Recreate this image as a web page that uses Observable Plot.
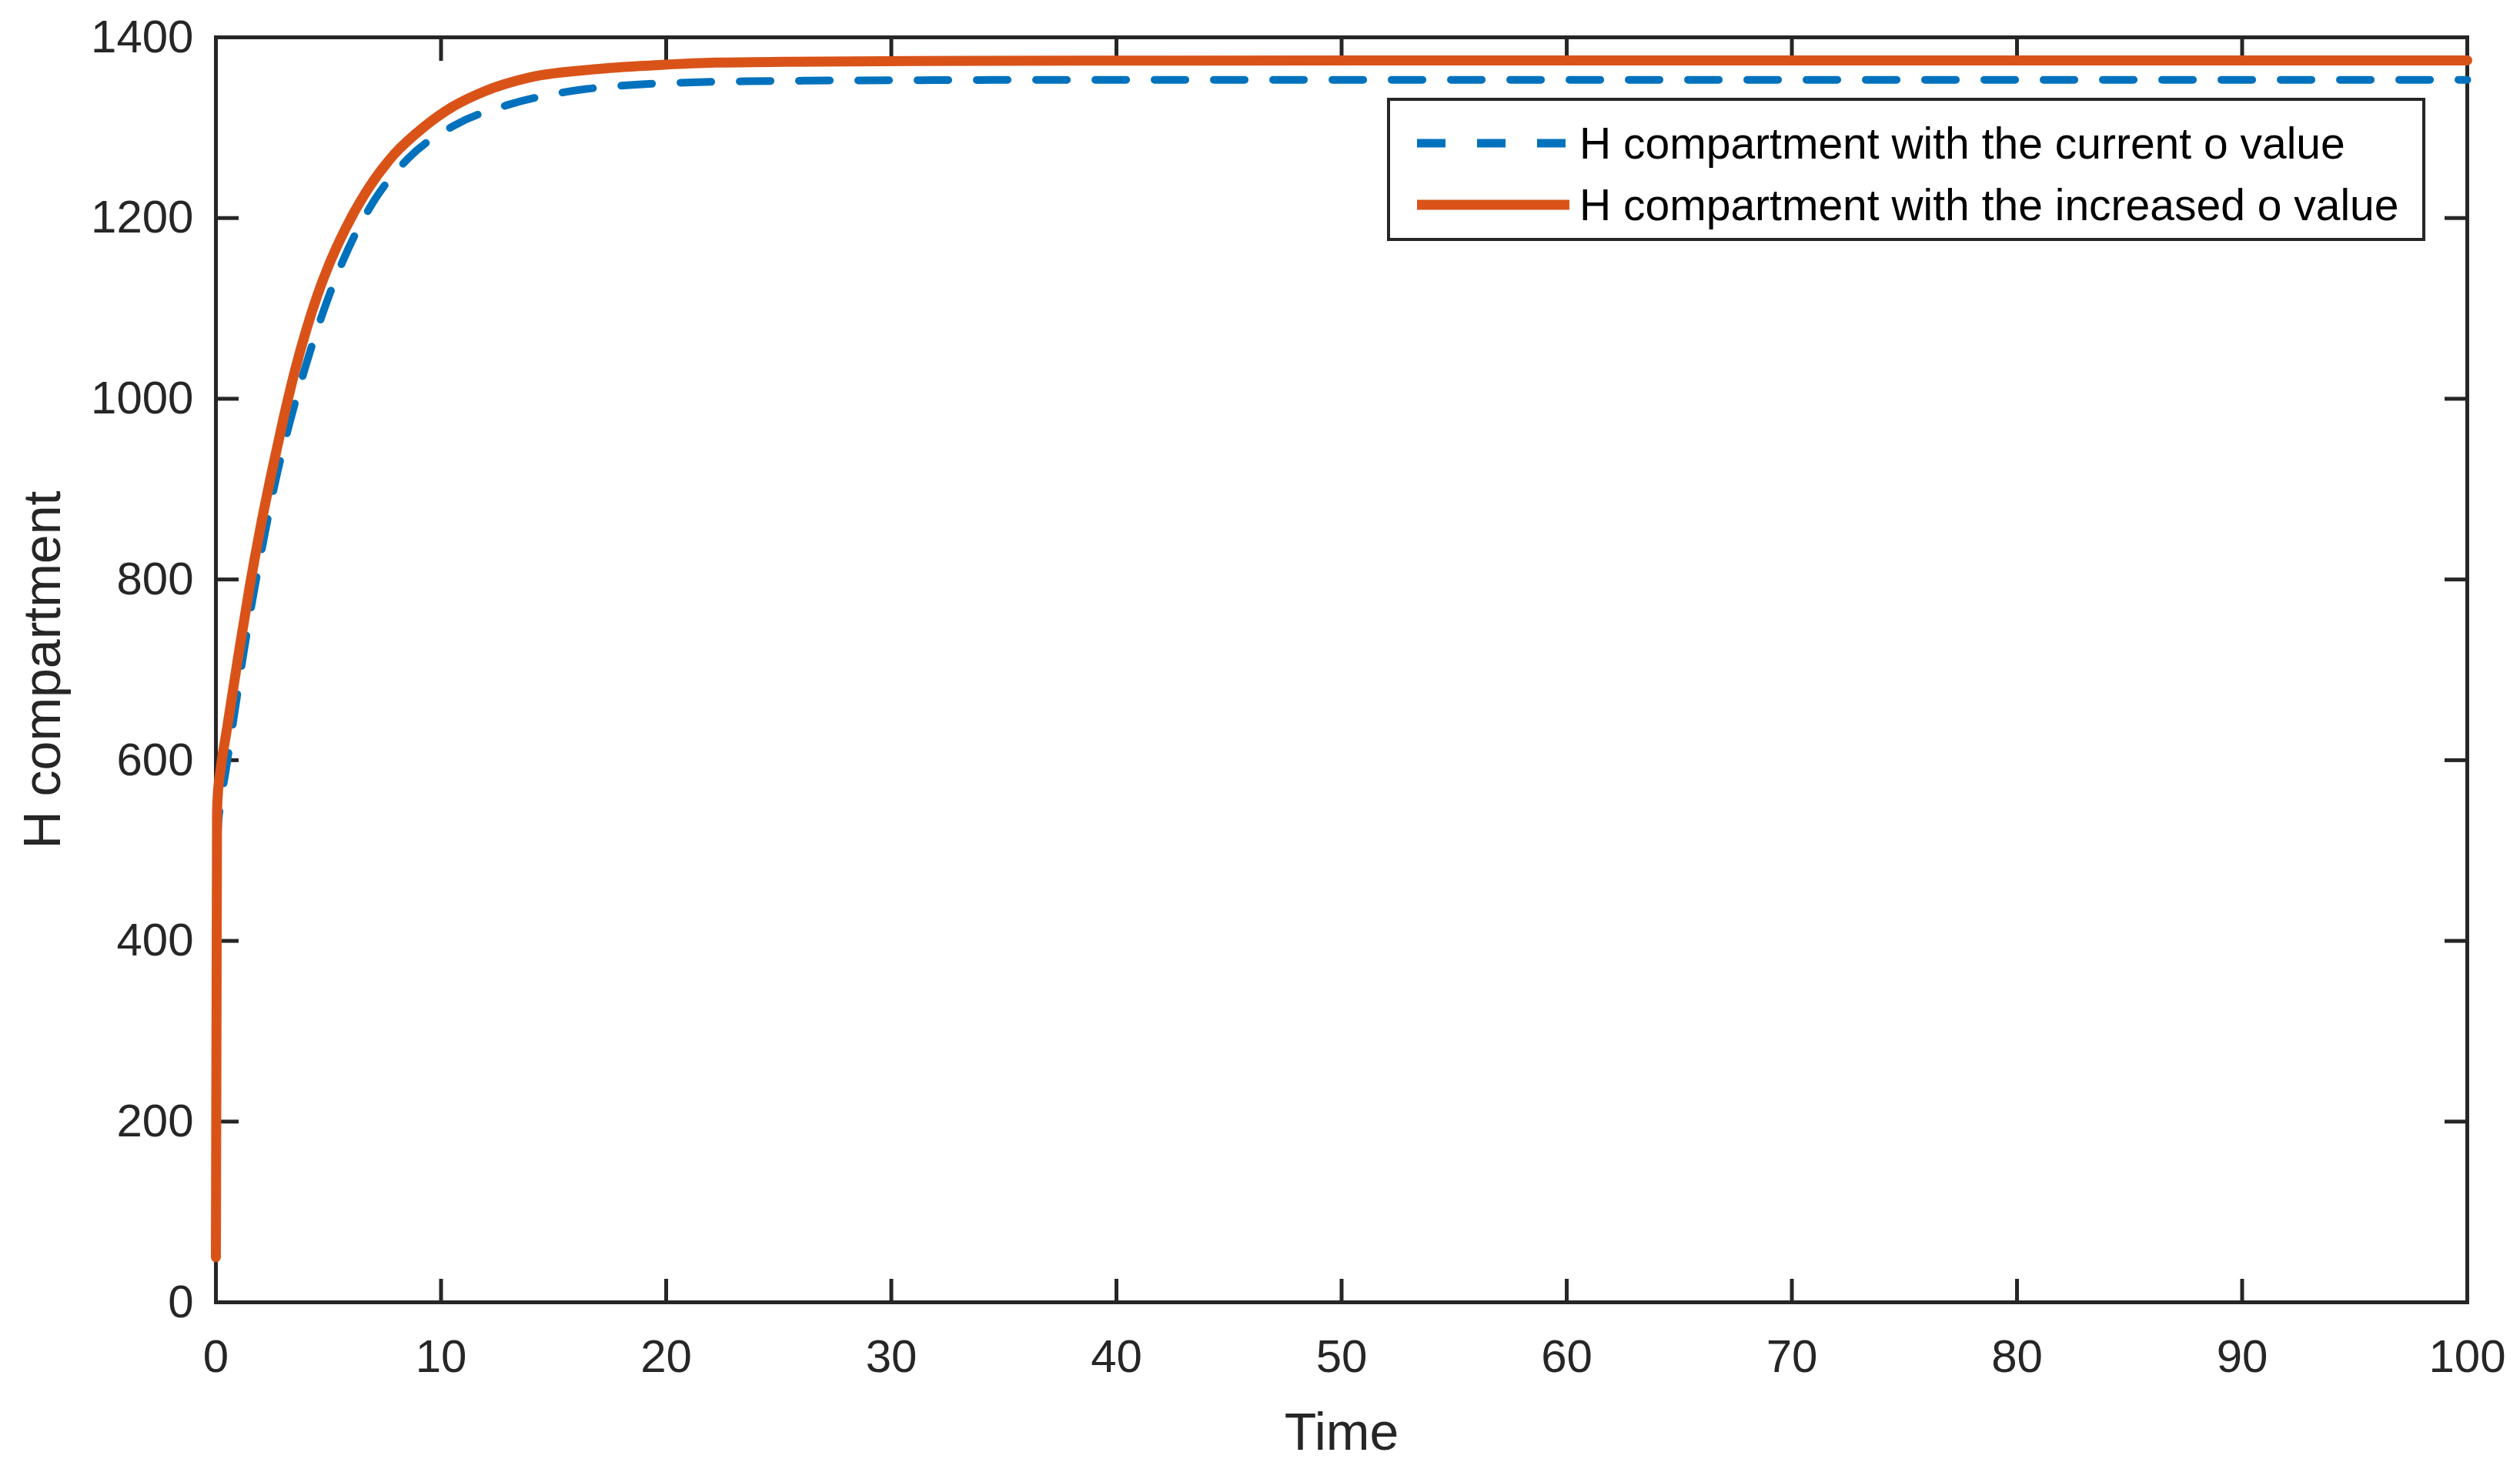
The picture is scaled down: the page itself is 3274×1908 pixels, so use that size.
<!DOCTYPE html>
<html>
<head>
<meta charset="utf-8">
<script src="https://cdn.jsdelivr.net/npm/d3@7"></script>
<script src="https://cdn.jsdelivr.net/npm/@observablehq/plot@0.6"></script>
<style>
  html, body { margin: 0; padding: 0; background: #fff; }
  #wrap { position: relative; width: 3274px; height: 1908px; font-family: "Liberation Sans", Arial, Helvetica, sans-serif; }
  #legend { position: absolute; left: 1802px; top: 127px; width: 1341px; height: 178px; border: 4px solid #262626; background: #fff; }
  .row { position: absolute; left: 0; height: 80px; display: flex; align-items: center; }
  .row svg { margin-left: 35px; margin-right: 13px; }
  .row span { font-size: 57px; color: #000; white-space: nowrap; line-height: 80px; }
</style>
</head>
<body>
<div id="wrap"></div>
<script>
// ---- data ----
const seriesNames = ["H compartment with the current o value", "H compartment with the increased o value"];
const seriesColors = ["#0072BD", "#D95319"];

const timeCurrent = [0, 0.05, 0.1, 0.2, 0.46, 0.8, 1.2, 1.65, 2.12, 2.62, 3.26, 3.97, 4.75, 5.63, 6.92, 8.54, 10.63, 13.07, 15.65, 18.25, 20.85, 23.5, 26.1, 31.3, 40, 60, 80, 100];
const hCurrent    = [50, 500, 528, 550, 592, 648, 714, 781, 844, 906, 972, 1035, 1095, 1152, 1215, 1266, 1303, 1326, 1340, 1347, 1350, 1351.4, 1352, 1352.6, 1353, 1353, 1353, 1353];

const timeIncreased = [0, 0.05, 0.08, 0.2, 0.5, 1.0, 1.5, 2.0, 2.5, 3.0, 3.5, 4.0, 4.5, 5.0, 5.75, 6.75, 7.9, 9.2, 10.5, 11.9, 14.0, 17.0, 19.8, 22.2, 25.6, 31, 40, 60, 80, 100];
const hIncreased    = [50, 540, 560, 588, 636, 716, 792, 860, 921, 978, 1030, 1075, 1114, 1147, 1188, 1232, 1270, 1300, 1323, 1340, 1356, 1365, 1369.5, 1372, 1373, 1373.8, 1374.2, 1374.5, 1374.5, 1374.5];

const xTicks = [0, 10, 20, 30, 40, 50, 60, 70, 80, 90, 100];
const yTicks = [0, 200, 400, 600, 800, 1000, 1200, 1400];
const xLabel = "Time";
const yLabel = "H compartment";

// ---- build tables ----
const current = timeCurrent.map((t, i) => ({t, h: hCurrent[i]}));
const increased = timeIncreased.map((t, i) => ({t, h: hIncreased[i]}));

const axisColor = "#262626";
const fontFamily = '"Liberation Sans", Arial, Helvetica, sans-serif';
const fmt = d => String(d);

const chart = Plot.plot({
  width: 3274,
  height: 1908,
  marginLeft: 280,
  marginRight: 69,
  marginTop: 48,
  marginBottom: 217,
  style: {fontFamily, fontSize: "60px", color: axisColor, background: "#fff", overflow: "visible"},
  x: {domain: [0, 100]},
  y: {domain: [0, 1400]},
  marks: [
    Plot.frame({stroke: axisColor, strokeWidth: 5}),
    Plot.axisX(xTicks, {anchor: "bottom", tickSize: -30, tickPadding: 78, tickFormat: fmt, strokeWidth: 5, stroke: axisColor, fill: axisColor, label: null}),
    Plot.axisX(xTicks, {anchor: "top", tickSize: -30, strokeWidth: 5, stroke: axisColor, fill: "none", label: null}),
    Plot.axisY(yTicks, {anchor: "left", tickSize: -30, tickPadding: 59, tickFormat: fmt, strokeWidth: 5, stroke: axisColor, fill: axisColor, label: null}),
    Plot.axisY(yTicks, {anchor: "right", tickSize: -30, strokeWidth: 5, stroke: axisColor, fill: "none", label: null}),
    Plot.text([xLabel], {frameAnchor: "bottom", dy: 191, lineAnchor: "bottom", textAnchor: "middle", fontSize: 68, fill: axisColor}),
    Plot.text([yLabel], {frameAnchor: "left", dx: -203, rotate: -90, lineAnchor: "bottom", textAnchor: "middle", fontSize: 68, fill: axisColor}),
    Plot.line(current, {x: "t", y: "h", stroke: seriesColors[0], strokeWidth: 10, strokeDasharray: "40,37", curve: "monotone-x"}),
    Plot.line(increased, {x: "t", y: "h", stroke: seriesColors[1], strokeWidth: 13, curve: "monotone-x"})
  ]
});

const wrap = document.getElementById("wrap");
wrap.appendChild(chart);

// ---- legend (inside the axes, top right) ----
const legend = document.createElement("div");
legend.id = "legend";
const rowCenters = [55, 135];
seriesNames.forEach((name, i) => {
  const row = document.createElement("div");
  row.className = "row";
  row.style.top = (rowCenters[i] - 40) + "px";
  const sw = d3.create("svg").attr("width", 198).attr("height", 20);
  sw.append("line")
    .attr("x1", 0).attr("x2", 198).attr("y1", 10).attr("y2", 10)
    .attr("stroke", seriesColors[i])
    .attr("stroke-width", i === 0 ? 11 : 13)
    .attr("stroke-dasharray", i === 0 ? "37,41" : null);
  row.appendChild(sw.node());
  const label = document.createElement("span");
  label.textContent = name;
  row.appendChild(label);
  legend.appendChild(row);
});
wrap.appendChild(legend);
</script>
</body>
</html>
